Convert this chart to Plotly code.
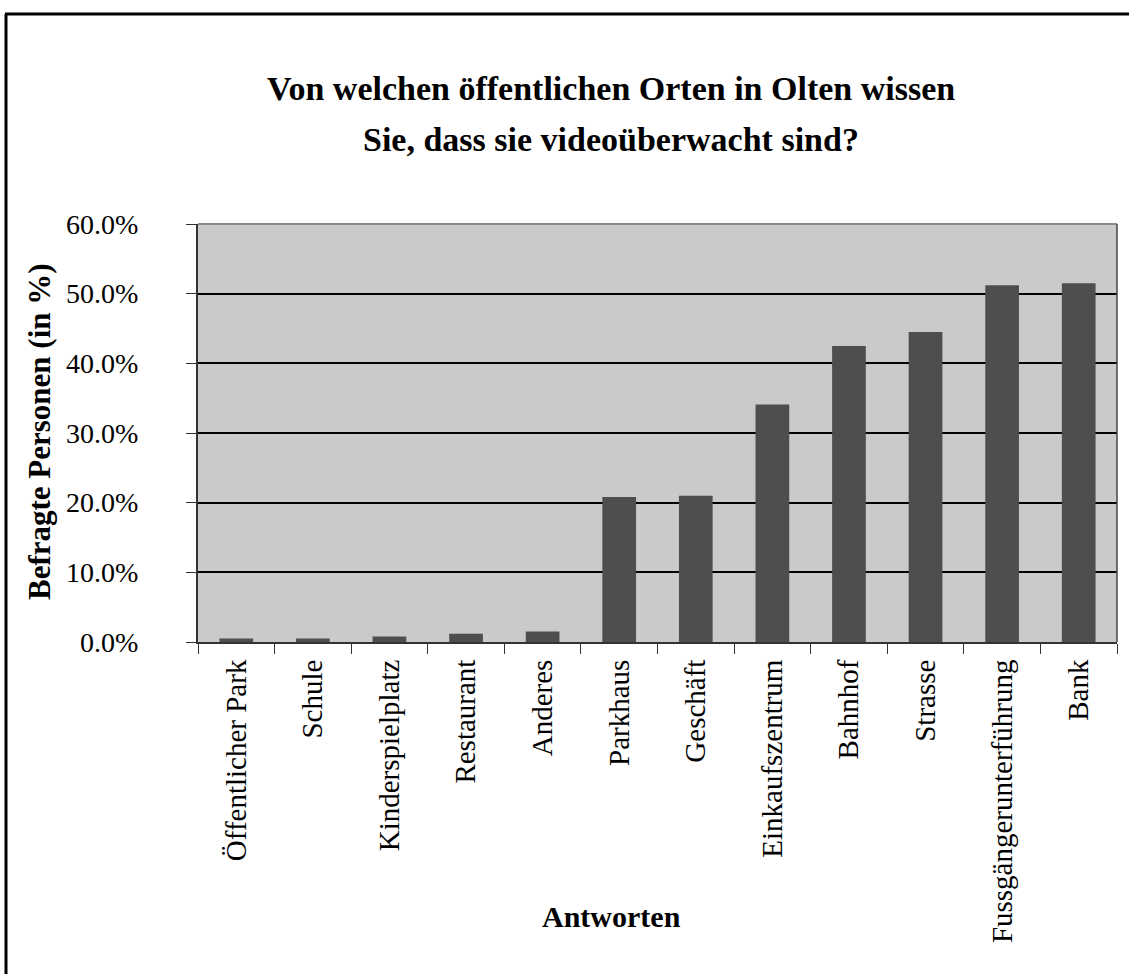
import plotly.graph_objects as go

categories = ["Öffentlicher Park", "Schule", "Kinderspielplatz", "Restaurant", "Anderes",
              "Parkhaus", "Geschäft", "Einkaufszentrum", "Bahnhof", "Strasse",
              "Fussgängerunterführung", "Bank"]
values = [0.5, 0.5, 0.8, 1.2, 1.5, 20.8, 21.0, 34.1, 42.5, 44.5, 51.2, 51.5]
y_ticks = [0, 10, 20, 30, 40, 50, 60]
y_tick_labels = ["0.0%", "10.0%", "20.0%", "30.0%", "40.0%", "50.0%", "60.0%"]

W, H = 1129, 974
L, R, T, B = 198, 1117, 224, 642

fig = go.Figure(go.Bar(
    x=categories, y=values,
    marker=dict(color="#4e4e4e", line=dict(width=0)),
))

serif = "Liberation Serif"

fig.update_layout(
    width=W, height=H, autosize=False,
    margin=dict(l=L, r=W - R, t=T, b=H - B, pad=0),
    paper_bgcolor="white", plot_bgcolor="#cacaca",
    bargap=0.56, showlegend=False,
    font=dict(family=serif, color="black"),
)
fig.update_yaxes(
    range=[0, 60], tickvals=y_ticks, ticktext=y_tick_labels,
    showgrid=True, gridcolor="black", gridwidth=2,
    zeroline=False, showline=True, linecolor="#333", linewidth=2, mirror=False,
    ticks="outside", ticklen=10, tickcolor="#333", tickwidth=1,
    tickfont=dict(family=serif, size=28), ticklabelstandoff=42,
)
fig.update_xaxes(
    tickangle=-90, tickson="boundaries",
    showline=True, linecolor="#333", linewidth=2,
    ticks="outside", ticklen=10, tickcolor="#333", tickwidth=1,
    tickfont=dict(family=serif, size=29), ticklabelstandoff=4,
    showgrid=False,
)
# plot border top/right
fig.add_shape(type="line", xref="paper", yref="paper", x0=0, x1=1, y0=1, y1=1,
              line=dict(color="#8a8a8a", width=2))
fig.add_shape(type="line", xref="paper", yref="paper", x0=1, x1=1, y0=0, y1=1,
              line=dict(color="#444", width=1.5))

def px_x(x):
    return (x - L) / (R - L)

def px_y(y):
    return (B - y) / (B - T)

# frame lines
fig.add_shape(type="line", xref="paper", yref="paper",
              x0=px_x(5), x1=px_x(1129), y0=px_y(14), y1=px_y(14),
              line=dict(color="black", width=3))
fig.add_shape(type="line", xref="paper", yref="paper",
              x0=px_x(6), x1=px_x(6), y0=px_y(14), y1=px_y(974),
              line=dict(color="black", width=3))

fig.add_annotation(text="<b>Von welchen öffentlichen Orten in Olten wissen</b>",
                   xref="paper", yref="paper", x=px_x(611), y=px_y(89),
                   showarrow=False, font=dict(family=serif, size=34, color="black"),
                   xanchor="center", yanchor="middle")
fig.add_annotation(text="<b>Sie, dass sie videoüberwacht sind?</b>",
                   xref="paper", yref="paper", x=px_x(611), y=px_y(139),
                   showarrow=False, font=dict(family=serif, size=34, color="black"),
                   xanchor="center", yanchor="middle")
fig.add_annotation(text="<b>Befragte Personen (in %)</b>",
                   xref="paper", yref="paper", x=px_x(39), y=px_y(432),
                   showarrow=False, textangle=-90,
                   font=dict(family=serif, size=31, color="black"),
                   xanchor="center", yanchor="middle")
fig.add_annotation(text="<b>Antworten</b>",
                   xref="paper", yref="paper", x=px_x(611), y=px_y(916),
                   showarrow=False, font=dict(family=serif, size=30, color="black"),
                   xanchor="center", yanchor="middle")

fig.write_html("out.html", config={"displayModeBar": False},
               post_script="document.body.style.margin='0';")
